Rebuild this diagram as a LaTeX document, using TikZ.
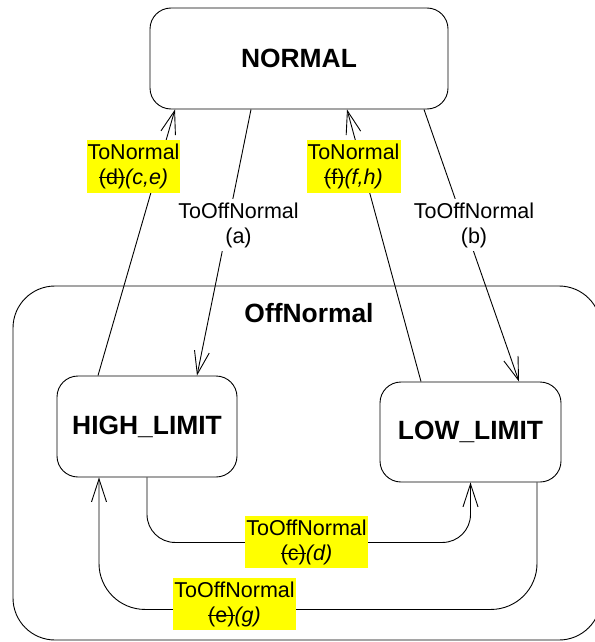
\documentclass[tikz,border=0pt]{standalone}
\usepackage{fontspec}
\setmainfont{Liberation Sans}
\usepackage{tikz}
\usetikzlibrary{arrows.meta}

\definecolor{hilite}{RGB}{255,255,0}

% struck-out text
\newsavebox\strkbox
\newcommand\strk[1]{\sbox\strkbox{#1}\rlap{\rule[0.3em]{\wd\strkbox}{0.9pt}}\usebox\strkbox}

\tikzset{
  state/.style={draw, line width=0.9pt, rounded corners=21pt, font=\fontsize{26.4}{30}\selectfont\bfseries},
  trans/.style={line width=0.9pt, -{Straight Barb[length=23pt,width=15pt,line width=0.9pt]}},
  lbl/.style={align=center, fill=white, inner xsep=1pt, inner ysep=3.5pt, font=\fontsize{21.5}{25}\selectfont},
  mark lbl/.style={lbl, fill=hilite}
}

\begin{document}
\begin{tikzpicture}[x=1pt, y=-1pt]
\useasboundingbox (0,0) rectangle (594,642);

% Draw composite state
\node[draw, line width=0.9pt, rounded corners=42pt, minimum width=588pt, minimum height=354pt] (offnormal) at (307,463) {};
\node[font=\fontsize{26.4}{30}\selectfont\bfseries] (offtitle) at (309,313) {OffNormal};

% Draw states
\node[state, minimum width=298pt, minimum height=101pt] (normal) at (299,58.5) {NORMAL};
\node[state, minimum width=180pt, minimum height=101pt] (high) at (147,426.5) {HIGH\_LIMIT};
\node[state, minimum width=181pt, minimum height=100pt] (low) at (470.5,432) {LOW\_LIMIT};

% Draw transitions
\draw[trans] ([xshift=-49pt]high.north) -- ([xshift=-124pt]normal.south);
\draw[trans] ([xshift=-48pt]normal.south) -- ([xshift=50pt]high.north);
\draw[trans] ([xshift=-49.5pt]low.north) -- ([xshift=48pt]normal.south);
\draw[trans] ([xshift=125pt]normal.south) -- ([xshift=48.5pt]low.north);
\draw[trans, rounded corners=28pt] (high.south) -- ++(0,65) -| (low.south);
\draw[trans, rounded corners=46pt] ([xshift=66.5pt]low.south) -- ++(0,127) -| ([xshift=-48pt]high.south);

% Label transitions
\node[mark lbl] (toNormalH) at (133.5,166.5) {ToNormal\\\strk{(d)}\textit{(c,e)}};
\node[lbl] (toOffA) at (238.5,225) {ToOffNormal\\(a)};
\node[mark lbl] (toNormalL) at (353.5,166.5) {ToNormal\\\strk{(f)}\textit{(f,h)}};
\node[lbl] (toOffB) at (474,225) {ToOffNormal\\(b)};
\node[mark lbl] (toOffD) at (306.5,542) {ToOffNormal\\\strk{(c)}\textit{(d)}};
\node[mark lbl] (toOffG) at (234.5,604) {ToOffNormal\\\strk{(e)}\textit{(g)}};
\end{tikzpicture}
\end{document}
